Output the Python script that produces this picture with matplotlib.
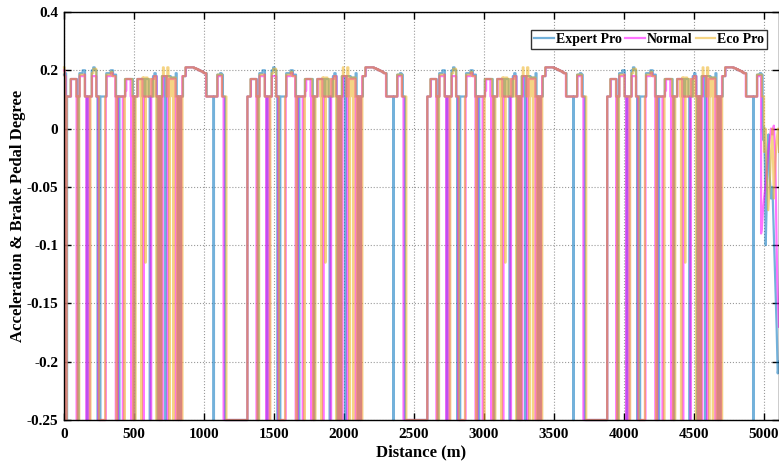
import numpy as np
import matplotlib
matplotlib.use("Agg")
import matplotlib.pyplot as plt

B = 0.11   # coasting level
D = -0.25  # full brake level

# repeated drive-cycle starts (m)
cycle_starts = [0, 1285, 2570, 3855]
last_cycle_cut = {"Expert Pro": 1130, "Normal": 1124, "Eco Pro": 1140}

# start of the first cycle (distance, value)
prefix = {
    "Expert Pro": [(0, 0.185), (10, 0.19), (15, B), (18, D), (22, B)],
    "Normal":     [(0, 0.20), (6, 0.18), (12, D), (17, B)],
    "Eco Pro":    [(0, 0.21), (4, 0.18), (10, B), (14, D), (19, B)],
}

# one cycle: cycle-local distance -> pedal level (step changes)
base_steps = {
    "Expert Pro": [(25, B), (48, 0.17), (92, B), (110, 0.19), (133, 0.20), (150, B), (198, 0.20), (209, 0.21),
                   (219, 0.20), (232, B), (302, 0.19), (333, 0.20), (350, 0.185), (372, B), (436, 0.17),
                   (492, B), (524, 0.17), (574, B), (582, 0.17), (605, B), (636, 0.18), (646, 0.19),
                   (655, 0.18), (662, B), (700, 0.18), (720, B), (730, 0.18), (762, 0.175), (798, 0.19),
                   (805, B), (850, 0.18), (869, 0.21), (929, 0.207), (945, 0.204), (960, 0.20), (975, 0.197),
                   (990, 0.193), (1000, 0.19), (1019, B), (1095, 0.185), (1115, 0.19), (1125, 0.185),
                   (1135, B), (1150, D)],
    "Normal":     [(25, B), (50, 0.17), (88, B), (112, 0.18), (145, 0.185), (150, B), (200, 0.18), (231, B),
                   (304, 0.18), (335, 0.19), (348, 0.18), (366, B), (438, 0.13), (445, 0.17), (476, B),
                   (526, 0.17), (560, B), (624, 0.17), (643, 0.18), (660, B), (708, 0.18), (735, B),
                   (748, 0.17), (796, B), (845, 0.18), (869, 0.21), (929, 0.207), (945, 0.204), (960, 0.20),
                   (975, 0.197), (990, 0.193), (1000, 0.19), (1015, B), (1097, 0.18), (1128, B), (1140, D)],
    "Eco Pro":    [(25, B), (47, 0.17), (88, B), (112, 0.185), (148, B), (198, 0.19), (210, 0.205), (230, B),
                   (302, 0.185), (335, 0.195), (345, 0.18), (369, B), (436, 0.17), (488, B), (524, 0.17),
                   (545, B), (560, 0.175), (566, B), (568, 0.175), (576, B), (585, 0.175), (596, B),
                   (607, 0.17), (624, B), (630, 0.17), (640, B), (645, 0.18), (656, B), (700, 0.18),
                   (707, 0.21), (712, 0.18), (732, B), (738, 0.21), (746, 0.18), (750, B), (760, 0.175),
                   (775, B), (784, 0.175), (798, B), (848, 0.18), (867, 0.21), (929, 0.207), (945, 0.204),
                   (960, 0.20), (975, 0.197), (990, 0.193), (1000, 0.19), (1017, B), (1095, 0.185),
                   (1129, B), (1160, D)],
}

# braking dips within a cycle: (cycle-local start, width, depth)
brake_dips = {
    "Expert Pro": [(100, 4, D), (164, 4, D), (240, 3, D), (255, 5, D), (385, 3, D), (392, 4, D), (500, 4, D),
                   (612, 4, D), (668, 4, D), (680, 3, D), (690, 4, D), (724, 4, D), (815, 4, D), (830, 4, D),
                   (1067, 4, D)],
    "Normal":     [(90, 5, D), (160, 4, D), (178, 5, D), (245, 53, D), (370, 3, D), (379, 5, D), (420, 4, D),
                   (481, 4, D), (493, 4, D), (565, 4, D), (620, 3, D), (675, 4, D), (685, 4, D), (700, 4, D),
                   (740, 4, D), (798, 4, D), (815, 4, D), (834, 4, D)],
    "Eco Pro":    [(97, 4, D), (105, 4, D), (185, 4, D), (250, 44, D), (375, 4, D), (430, 4, D), (495, 4, D),
                   (507, 4, D), (552, 4, D), (581, 2, -0.115), (660, 4, D), (668, 2, -0.17), (680, 4, D),
                   (692, 4, D), (752, 4, D), (779, 4, D), (806, 4, D), (822, 4, D), (842, 4, D)],
}

# end of the run (distance, value)
tail = {
    "Expert Pro": [(4990, 0.0), (4996, -0.01), (5000, 0.005), (5006, -0.03), (5012, -0.10), (5018, -0.07),
                   (5025, -0.02), (5032, -0.005), (5040, -0.04), (5050, -0.06), (5060, -0.05), (5070, -0.09),
                   (5080, -0.13), (5090, -0.17), (5098, -0.21), (5107, -0.20)],
    "Normal":     [(4979, -0.09), (4985, -0.085), (4992, -0.07), (5000, -0.06), (5010, -0.05), (5020, -0.035),
                   (5030, -0.02), (5040, -0.01), (5050, 0.0), (5060, -0.005), (5070, 0.01), (5080, -0.02),
                   (5085, -0.06), (5090, -0.10), (5095, -0.13), (5100, -0.15), (5107, -0.17)],
    "Eco Pro":    [(5000, -0.02), (5010, 0.0), (5020, -0.04), (5030, -0.07), (5040, -0.05), (5050, -0.02),
                   (5060, 0.0), (5070, -0.06), (5080, -0.03), (5090, -0.01), (5100, 0.0), (5107, -0.02)],
}

series_names = ["Expert Pro", "Normal", "Eco Pro"]
colors = {"Expert Pro": "#0072BD", "Normal": "#FF00FF", "Eco Pro": "#EDB120"}

x_ticks = [0, 500, 1000, 1500, 2000, 2500, 3000, 3500, 4000, 4500, 5000]
y_ticks = [-0.25, -0.2, -0.15, -0.1, -0.05, 0, 0.2, 0.4]
y_tick_labels = ["-0.25", "-0.2", "-0.15", "-0.1", "-0.05", "0", "0.2", "0.4"]


def level_at(steps, u):
    v = steps[0][1]
    for s, val in steps:
        if s <= u:
            v = val
        else:
            break
    return v


def cycle_steps(name):
    base = base_steps[name]
    extra = []
    for a, w, depth in brake_dips[name]:
        extra.append((a, depth))
        extra.append((a + w, level_at(base, a + w)))
    return sorted(base + extra, key=lambda t: t[0])


def build(name):
    steps = list(prefix[name])
    cyc = cycle_steps(name)
    for k, c in enumerate(cycle_starts):
        for u, v in cyc:
            if k == len(cycle_starts) - 1 and u >= last_cycle_cut[name]:
                continue
            steps.append((u + c, v))
    xs, ys = [], []
    for i, (x, v) in enumerate(steps):
        xs.append(x); ys.append(v)
        nx = steps[i + 1][0] if i + 1 < len(steps) else tail[name][0][0]
        xs.append(nx); ys.append(v)
    for x, v in tail[name]:
        xs.append(x); ys.append(v)
    return np.array(xs, float), np.array(ys, float)


def fwd(y):
    y = np.asarray(y, float)
    return np.where(y >= 0, y / 0.2, y / 0.05)


def inv(p):
    p = np.asarray(p, float)
    return np.where(p >= 0, p * 0.2, p * 0.05)


plt.rcParams['font.family'] = ['Liberation Serif', 'DejaVu Serif']
plt.rcParams['font.weight'] = 'bold'

fig = plt.figure(figsize=(7.79, 4.66), dpi=100)
ax = fig.add_axes([64 / 779, 1 - 420 / 466, 715 / 779, 408 / 466])
ax.set_yscale('function', functions=(fwd, inv))

for name in series_names:
    x, y = build(name)
    ax.plot(x, y, color=colors[name], lw=1.6, alpha=0.55, label=name, clip_on=False)

ax.set_xlim(0, 5107)
ax.set_ylim(-0.25, 0.4)
ax.set_xticks(x_ticks)
ax.set_xticklabels([str(t) for t in x_ticks], fontsize=11, fontweight='bold')
ax.set_yticks(y_ticks)
ax.set_yticklabels(y_tick_labels, fontsize=11, fontweight='bold')
ax.minorticks_off()
ax.tick_params(direction='in', top=True, right=True, length=5, width=1)
ax.tick_params(axis='x', pad=6)
ax.tick_params(axis='y', pad=4)
ax.grid(True, linestyle=':', color='#9a9a9a', linewidth=0.8)
for s in ax.spines.values():
    s.set_linewidth(1.0)
    s.set_zorder(3)
ax.set_xlabel("Distance (m)", fontsize=12, fontweight='bold')
ax.xaxis.set_label_coords(0.5, -(452 - 420) / 408, transform=ax.transAxes)
ax.set_ylabel("Acceleration & Brake Pedal Degree", fontsize=12, fontweight='bold')
ax.yaxis.set_label_coords(-(64 - 18) / 715, 0.5, transform=ax.transAxes)
ax.xaxis.label.set_va('center')
ax.yaxis.label.set_va('center')

leg = ax.legend(loc='upper right', bbox_to_anchor=(1 - 12 / 715, 1 - 18 / 408), borderaxespad=0,
                ncol=3, handlelength=1.4, handletextpad=0.15, columnspacing=0.25,
                borderpad=0.2, fancybox=False, framealpha=1, edgecolor='#333333',
                prop={'weight': 'bold', 'size': 10})
leg.get_frame().set_linewidth(1.0)
leg.set_zorder(5)

fig.savefig("out.png", dpi=100)
